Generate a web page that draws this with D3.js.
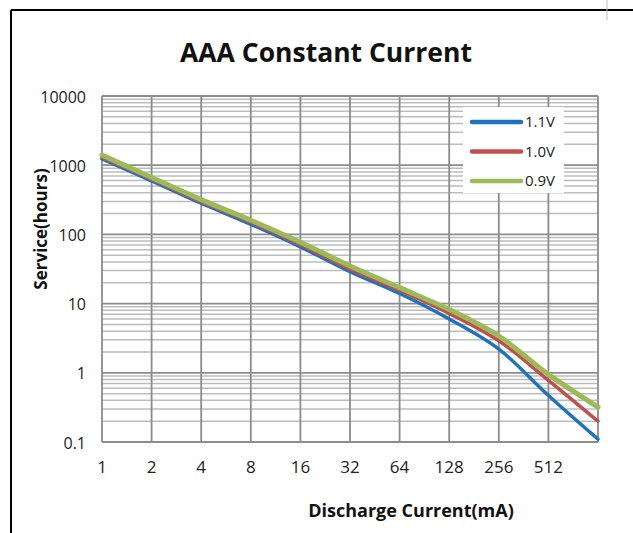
<!DOCTYPE html>
<html lang="en">
<head>
<meta charset="UTF-8" />
<title>AAA Constant Current</title>
<script src="https://d3js.org/d3.v7.min.js"></script>
<style>
  body { margin: 0; background: #fff; }
  svg text { font-family: "Open Sans", "Noto Sans", sans-serif; }
</style>
</head>
<body>
<div id="chart"></div>
<script>
// data
const current = [1, 2, 4, 8, 16, 32, 64, 128, 256, 512, 1024];   // mA
const hours11 = [1230, 595, 282, 140, 66, 29, 14, 6.0, 2.2, 0.47, 0.11];
const hours10 = [1300, 628, 298, 150, 71, 31.5, 15.5, 7.2, 2.9, 0.78, 0.2];
const hours09 = [1400, 665, 318, 160, 77, 35, 17, 8.2, 3.4, 0.95, 0.32];

const xTicks = [1, 2, 4, 8, 16, 32, 64, 128, 256, 512];
const yTicks = [0.1, 1, 10, 100, 1000, 10000];
const yTickLabels = ["0.1", "1", "10", "100", "1000", "10000"];

const series = [
  { name: "1.1V", values: hours11, color: "#1f73be", width: 3.5 },
  { name: "1.0V", values: hours10, color: "#c0504d", width: 3.5 },
  { name: "0.9V", values: hours09, color: "#9bbb59", width: 5 }
];

const W = 633, H = 533;
const svg = d3.select("#chart").append("svg")
  .attr("width", W).attr("height", H);

// frame of the cropped picture
svg.append("line").attr("x1", 11).attr("x2", W).attr("y1", 10).attr("y2", 10)
  .attr("stroke", "#000").attr("stroke-width", 2);
svg.append("line").attr("x1", 11).attr("x2", 11).attr("y1", 10).attr("y2", H)
  .attr("stroke", "#000").attr("stroke-width", 2);
svg.append("line").attr("x1", 607).attr("x2", 607).attr("y1", 0).attr("y2", 20)
  .attr("stroke", "#bbb").attr("stroke-width", 1);

const x = d3.scaleLog().base(2).domain([1, 1024]).range([102, 598]);
const y = d3.scaleLog().domain([0.1, 10000]).range([442, 96]);

// minor horizontal grid
const minor = [];
yTicks.slice(0, -1).forEach(d => {
  for (let k = 2; k <= 9; k++) minor.push(d * k);
});
const grid = svg.append("g");
grid.selectAll(".minor").data(minor).enter().append("line")
  .attr("x1", x(1)).attr("x2", x(1024))
  .attr("y1", d => y(d)).attr("y2", d => y(d))
  .attr("stroke", "#bdbdbd").attr("stroke-width", 1.5);
grid.selectAll(".major").data(yTicks).enter().append("line")
  .attr("x1", x(1)).attr("x2", x(1024))
  .attr("y1", d => y(d)).attr("y2", d => y(d))
  .attr("stroke", "#8c8c8c").attr("stroke-width", 1.8);
grid.selectAll(".vert").data(xTicks.concat([1024])).enter().append("line")
  .attr("x1", d => x(d)).attr("x2", d => x(d))
  .attr("y1", y(10000)).attr("y2", y(0.1))
  .attr("stroke", "#8c8c8c").attr("stroke-width", 1.8);

// tick labels
svg.append("g").selectAll("text").data(yTicks).enter().append("text")
  .attr("x", 86).attr("y", d => y(d) + 1)
  .attr("dy", "0.35em")
  .attr("text-anchor", "end")
  .attr("font-size", 16).attr("fill", "#222")
  .text((d, i) => yTickLabels[i]);

svg.append("g").selectAll("text").data(xTicks).enter().append("text")
  .attr("x", d => x(d)).attr("y", 473)
  .attr("text-anchor", "middle")
  .attr("font-size", 17).attr("fill", "#222")
  .text(d => d);

// lines (smoothed like the spreadsheet original)
const line = d3.line()
  .x((d, i) => x(current[i]))
  .y(d => y(d))
  .curve(d3.curveCatmullRom.alpha(0.5));

svg.append("g").selectAll("path").data(series).enter().append("path")
  .attr("d", d => line(d.values))
  .attr("fill", "none")
  .attr("stroke", d => d.color)
  .attr("stroke-width", d => d.width)
  .attr("stroke-linejoin", "round")
  .attr("stroke-linecap", "round");

// legend
const legend = svg.append("g");
legend.append("rect").attr("x", 463).attr("y", 107).attr("width", 101).attr("height", 86)
  .attr("fill", "#fff");
const items = legend.selectAll("g").data(series).enter().append("g")
  .attr("transform", (d, i) => `translate(0,${122 + i * 29.5})`);
items.append("line").attr("x1", 472).attr("x2", 521)
  .attr("stroke", d => d.color).attr("stroke-width", 4.5)
  .attr("stroke-linecap", "round");
items.append("text").attr("x", 525).attr("dy", "0.35em")
  .attr("font-size", 15).attr("fill", "#222")
  .text(d => d.name);

// titles
svg.append("text").attr("x", 326).attr("y", 62)
  .attr("text-anchor", "middle")
  .attr("font-size", 26.5).attr("font-weight", 700).attr("fill", "#111")
  .text("AAA Constant Current");

svg.append("text").attr("x", 411).attr("y", 517)
  .attr("text-anchor", "middle")
  .attr("font-size", 18).attr("font-weight", 700).attr("fill", "#111")
  .text("Discharge Current(mA)");

svg.append("text")
  .attr("transform", "translate(47,229) rotate(-90)")
  .attr("text-anchor", "middle")
  .attr("font-size", 17).attr("font-weight", 700).attr("fill", "#111")
  .text("Service(hours)");
</script>
</body>
</html>
